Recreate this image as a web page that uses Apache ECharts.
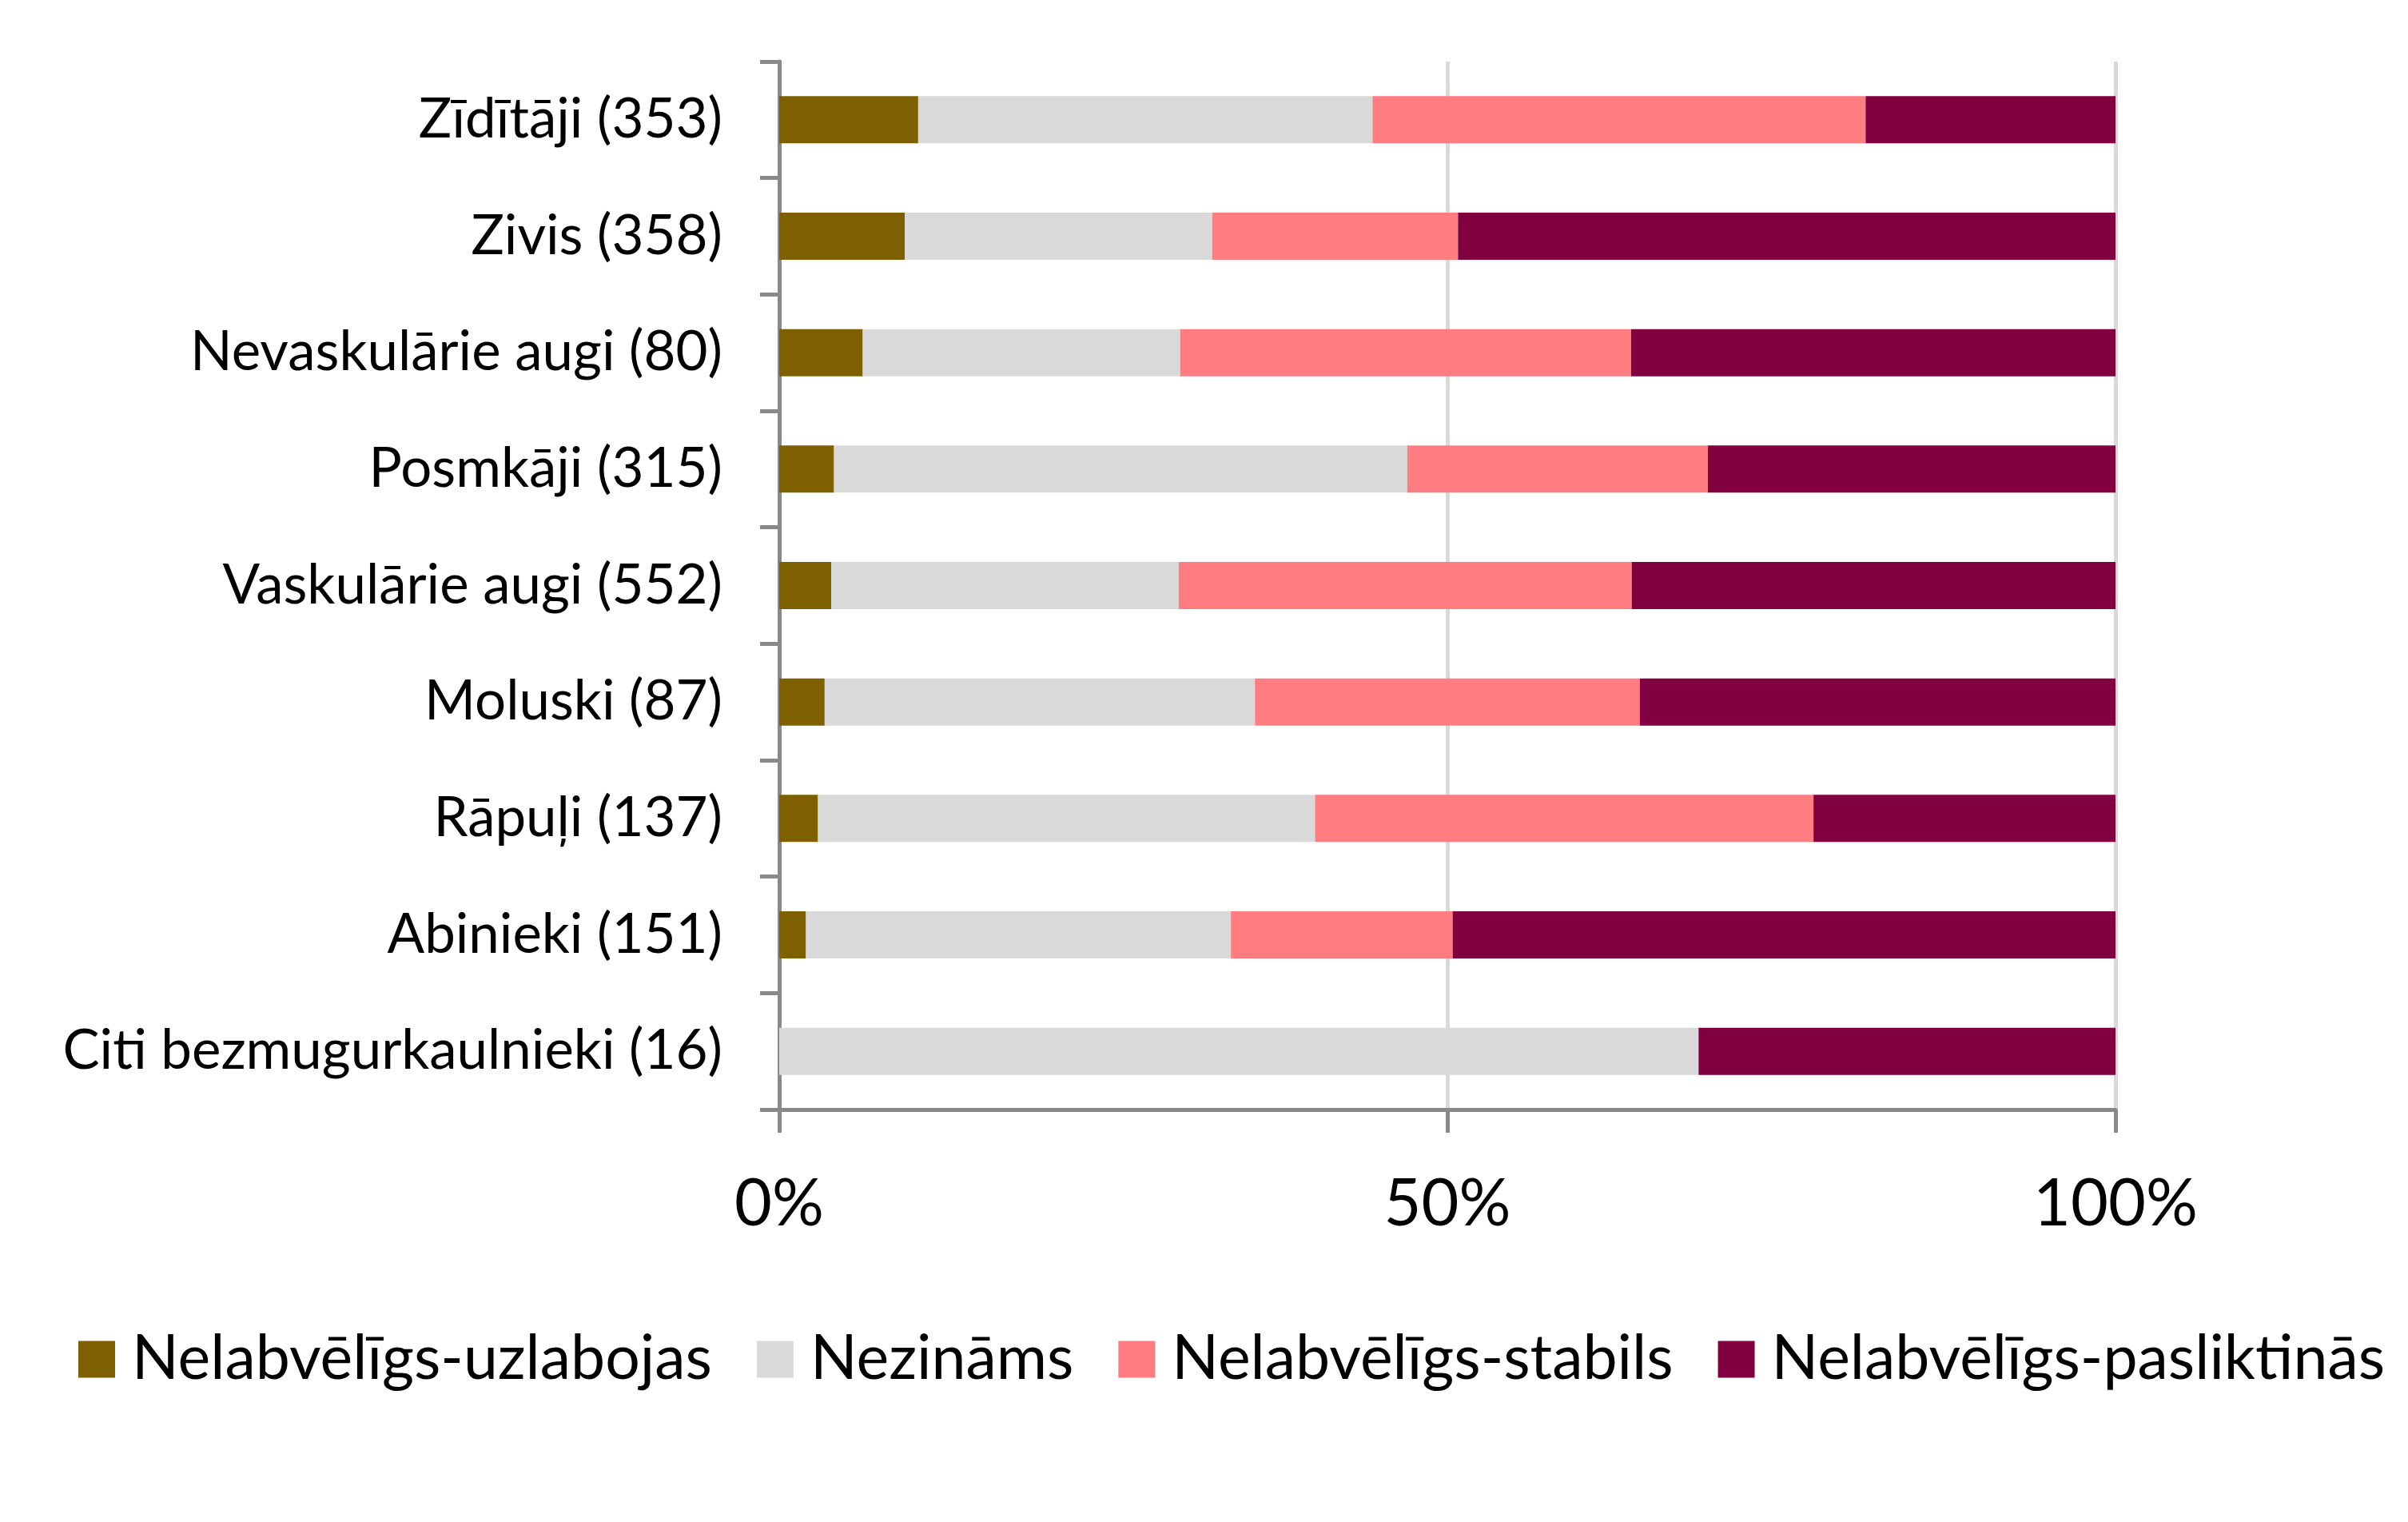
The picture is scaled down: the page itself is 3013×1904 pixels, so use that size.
<!DOCTYPE html>
<html>
<head>
<meta charset="utf-8">
<script src="https://cdn.jsdelivr.net/npm/echarts@6/dist/echarts.min.js"></script>
<style>
  html, body { margin: 0; padding: 0; background: #fff; }
  #chart { width: 3013px; height: 1904px; }
</style>
</head>
<body>
<div id="chart"></div>
<script>
// groups, top to bottom (number of species in brackets)
const groups = [
  'Zīdītāji (353)',
  'Zivis (358)',
  'Nevaskulārie augi (80)',
  'Posmkāji (315)',
  'Vaskulārie augi (552)',
  'Moluski (87)',
  'Rāpuļi (137)',
  'Abinieki (151)',
  'Citi bezmugurkaulnieki (16)',
]

// share of each trend, %
const uzlabojas =   [10.4,  9.4,  6.25, 4.1,  3.9,  3.4,  2.9,  2.0,  0]
const nezinams =    [34.0, 23.0, 23.75, 42.9, 26.0, 32.2, 37.2, 31.8, 68.8]
const stabils =     [36.9, 18.4, 33.75, 22.5, 33.9, 28.8, 37.3, 16.6, 0]
const pasliktinas = [18.7, 49.2, 36.25, 30.5, 36.2, 35.6, 22.6, 49.6, 31.2]

const trends = [
  {name: 'Nelabvēlīgs-uzlabojas', color: '#7F6000', data: uzlabojas},
  {name: 'Nezināms', color: '#D9D9D9', data: nezinams},
  {name: 'Nelabvēlīgs-stabils', color: '#FF7C80', data: stabils},
  {name: 'Nelabvēlīgs-pasliktinās', color: '#800040', data: pasliktinas},
]

const axisGrey = '#898989'
const font = 'Lato, "Noto Sans", sans-serif'

const series = []
trends.forEach(t => {
  series.push({
    type: 'bar',
    name: t.name,
    stack: 'total',
    data: t.data,
    barWidth: 59,
    itemStyle: { color: t.color },
    emphasis: { disabled: true },
  })
})

const chart = echarts.init(document.getElementById('chart'))
chart.setOption({
  animation: false,
  grid: { left: 975, right: 366, top: 77, bottom: 516, containLabel: false },
  legend: {
    left: 93,
    top: 1657,
    itemWidth: 46,
    itemHeight: 46,
    itemGap: 56,
    icon: 'rect',
    textStyle: { fontFamily: font, fontSize: 77, color: '#000', padding: [0, 0, 0, 16] },
    data: trends.map(t => t.name),
  },
  xAxis: {
    type: 'value',
    min: 0,
    max: 100,
    interval: 50,
    axisLine: { show: true, lineStyle: { color: axisGrey, width: 5 } },
    axisTick: { show: true, length: 29, lineStyle: { color: axisGrey, width: 5 } },
    axisLabel: { formatter: '{value}%', fontFamily: font, fontSize: 81, color: '#000', margin: 78 },
    splitLine: { show: true, lineStyle: { color: '#D9D9D9', width: 5 } },
  },
  yAxis: {
    type: 'category',
    inverse: true,
    data: groups,
    axisLine: { show: true, lineStyle: { color: axisGrey, width: 5 } },
    axisTick: { show: true, length: 24, lineStyle: { color: axisGrey, width: 5 } },
    axisLabel: { fontFamily: font, fontSize: 69, color: '#000', margin: 71 },
  },
  series: series,
})
</script>
</body>
</html>
